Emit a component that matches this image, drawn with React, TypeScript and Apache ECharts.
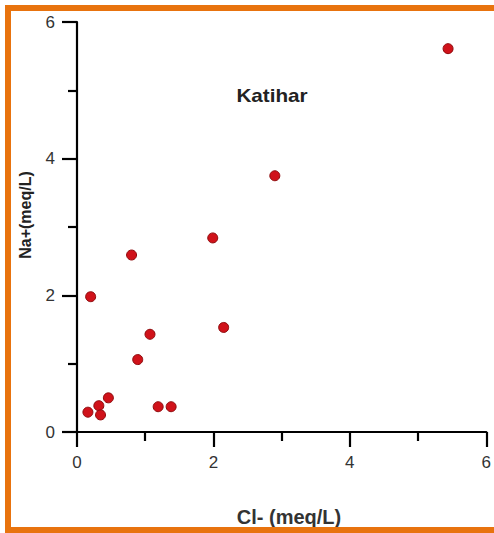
import React, { useEffect, useRef } from "react";
import * as echarts from "echarts";

const clValues = [5.44, 2.9, 1.99, 0.8, 0.2, 2.15, 1.07, 0.89, 0.46, 0.32, 0.16, 0.345, 1.19, 1.38];
const naValues = [5.61, 3.75, 2.84, 2.59, 1.98, 1.53, 1.43, 1.06, 0.5, 0.385, 0.29, 0.25, 0.37, 0.37];
const siteName = "Katihar";
const xAxisName = "Cl- (meq/L)";
const yAxisName = "Na+(meq/L)";

const FONT = "'Liberation Sans', Arial, Helvetica, sans-serif";

export default function App() {
  const ref = useRef<HTMLDivElement>(null);
  useEffect(() => {
    if (!ref.current) return;
    const chart = echarts.init(ref.current, null, { renderer: "svg" });
    const points = clValues.map((x, i) => [x, naValues[i]]);
    const axisCommon = {
      min: 0,
      max: 6,
      interval: 2,
      splitLine: { show: false },
      axisLine: { show: true, onZero: false, lineStyle: { color: "#000", width: 2.2 } },
      axisTick: { show: true, inside: false, length: 15, lineStyle: { color: "#000", width: 2.2 } },
      minorTick: { show: true, splitNumber: 2, length: 9, lineStyle: { color: "#000", width: 2.2 } },
      axisLabel: { color: "#333", fontSize: 17, fontFamily: FONT, margin: 22 },
    };
    chart.setOption({
      animation: false,
      backgroundColor: "#fff",
      grid: { left: 77, right: 5, top: 22, bottom: 101, containLabel: false },
      xAxis: { type: "value", ...axisCommon },
      yAxis: { type: "value", ...axisCommon },
      series: [
        {
          type: "scatter",
          data: points,
          symbol: "circle",
          symbolSize: 10,
          itemStyle: { color: "#d0121a", borderColor: "#8e0a0c", borderWidth: 1, opacity: 1 },
        },
      ],
      graphic: [
        {
          type: "rect",
          shape: { x: 8, y: 8, width: 520, height: 522 },
          style: { fill: "none", stroke: "#e8730e", lineWidth: 6 },
          silent: true,
          z: 100,
        },
        {
          type: "text",
          x: 272,
          y: 96,
          scaleX: 1.15,
          style: {
            text: siteName,
            fill: "#222",
            font: `bold 18px ${FONT}`,
            textAlign: "center",
            textVerticalAlign: "middle",
          },
        },
        {
          type: "text",
          x: 289,
          y: 517,
          style: {
            text: xAxisName,
            fill: "#333",
            font: `bold 20px ${FONT}`,
            textAlign: "center",
            textVerticalAlign: "middle",
          },
        },
        {
          type: "text",
          x: 25,
          y: 215,
          rotation: Math.PI / 2,
          style: {
            text: yAxisName,
            fill: "#222",
            font: `bold 16px ${FONT}`,
            textAlign: "center",
            textVerticalAlign: "middle",
          },
        },
      ],
    });
    return () => chart.dispose();
  }, []);
  return (
    <div
      ref={ref}
      style={{ position: "fixed", left: 0, top: 0, width: 494, height: 533 }}
    />
  );
}
